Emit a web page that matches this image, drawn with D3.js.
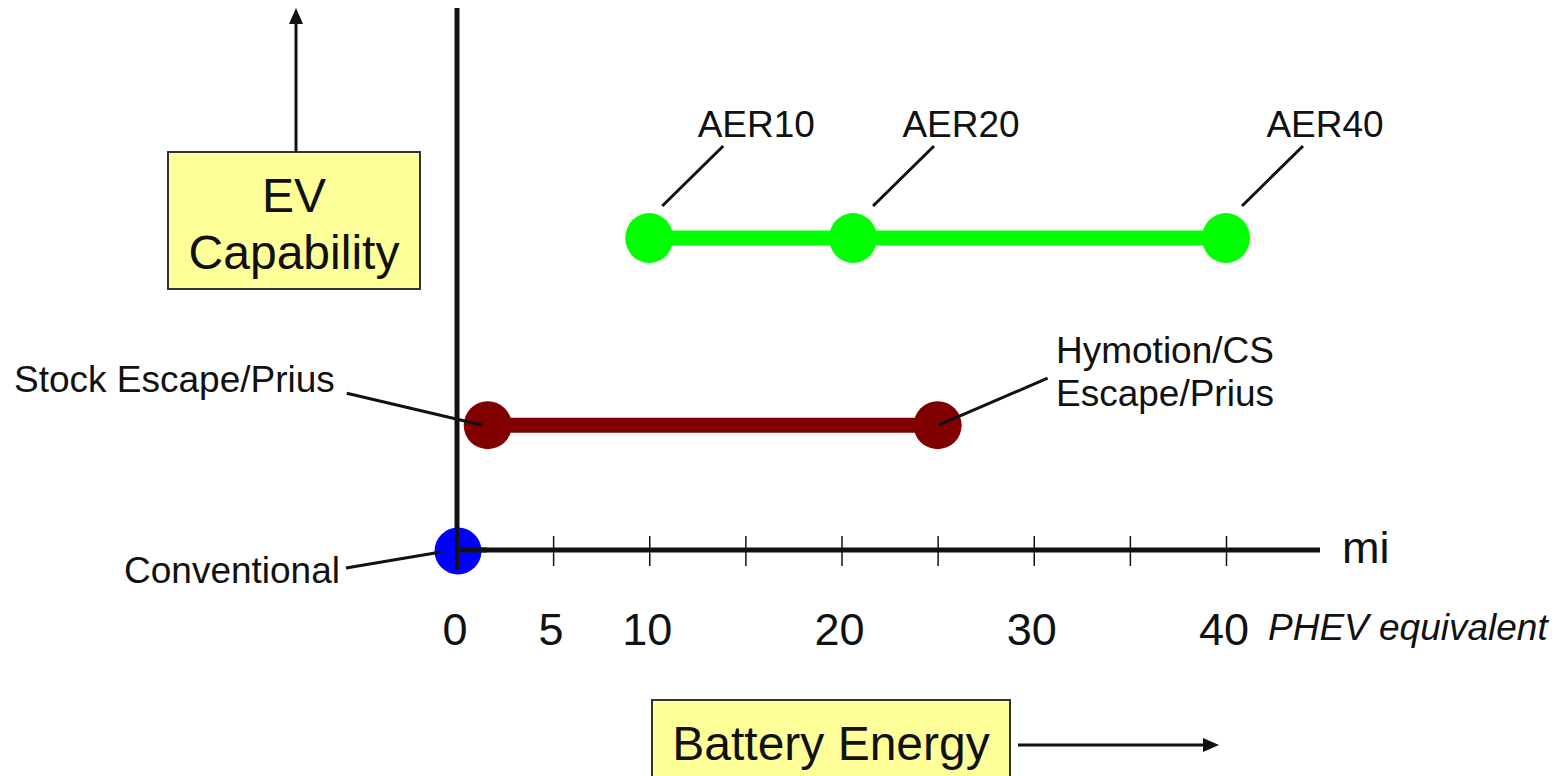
<!DOCTYPE html>
<html>
<head>
<meta charset="utf-8">
<script src="https://cdn.jsdelivr.net/npm/d3@7/dist/d3.min.js"></script>
<style>
  html, body { margin: 0; padding: 0; background: #fff; }
  svg { display: block; }
  text { font-family: "Liberation Sans", Arial, Helvetica, sans-serif; fill: #111; }
</style>
</head>
<body>
<svg id="chart" width="1561" height="776"></svg>
<script>
// ---- data ----
const tickValues = [0, 5, 10, 15, 20, 25, 30, 35, 40];
const tickLabels = ["0", "5", "10", "", "20", "", "30", "", "40"];
const aerNames = ["AER10", "AER20", "AER40"];
const aerMiles = [10, 20.6, 40];
const aerCapability = 100;
const hevNames = ["Stock Escape/Prius", "Hymotion/CS\nEscape/Prius"];
const hevMiles = [1.6, 25];
const hevCapability = 40;
const convName = "Conventional";
const convMiles = 0;
const convCapability = 0;

const svg = d3.select("#chart");
const x = d3.scaleLinear().domain([0, 40]).range([457, 1226]);
const y = d3.scaleLinear().domain([0, 100]).range([550, 238]);

// ---- y-axis (vertical line) ----
svg.append("line").attr("x1", x(0)).attr("x2", x(0)).attr("y1", 8).attr("y2", 570)
  .attr("stroke", "#111").attr("stroke-width", 5);

// ---- x-axis ----
const xAxis = d3.axisBottom(x).tickValues(tickValues.slice(1)).tickSize(30).tickFormat("");
const gx = svg.append("g").attr("transform", `translate(0,${y(0) - 14})`).call(xAxis);
gx.select(".domain").remove();
gx.selectAll(".tick line").attr("stroke", "#111").attr("stroke-width", 1.5);
svg.append("line").attr("x1", x(0)).attr("x2", 1320).attr("y1", y(0)).attr("y2", y(0))
  .attr("stroke", "#111").attr("stroke-width", 5);

svg.append("text").attr("x", 1342).attr("y", y(0) + 13).attr("font-size", 45).text("mi");

// tick labels
svg.append("g").selectAll("text").data(tickValues).join("text")
  .attr("x", d => x(d) - 2).attr("y", 645).attr("text-anchor", "middle")
  .attr("font-size", 45).text((d, i) => tickLabels[i]);
svg.append("text").attr("x", 1268).attr("y", 640).attr("font-size", 37)
  .attr("font-style", "italic").text("PHEV equivalent");

// ---- AER series ----
svg.append("line").attr("x1", x(aerMiles[0])).attr("x2", x(aerMiles[aerMiles.length - 1]))
  .attr("y1", y(aerCapability)).attr("y2", y(aerCapability))
  .attr("stroke", "#00ff00").attr("stroke-width", 15);
svg.append("g").selectAll("ellipse").data(aerMiles).join("ellipse")
  .attr("cx", d => x(d)).attr("cy", y(aerCapability)).attr("rx", 24).attr("ry", 25)
  .attr("fill", "#00ff00");
const leaderDx = [13, 20, 16];
const labelDx = [107, 108, 99];
aerMiles.forEach((m, i) => {
  const cx = x(m), cy = y(aerCapability);
  svg.append("line").attr("x1", cx + leaderDx[i]).attr("y1", cy - 32)
    .attr("x2", cx + leaderDx[i] + 61).attr("y2", cy - 92)
    .attr("stroke", "#111").attr("stroke-width", 3);
  svg.append("text").attr("x", cx + labelDx[i]).attr("y", cy - 101).attr("text-anchor", "middle")
    .attr("font-size", 37).text(aerNames[i]);
});

// ---- HEV series ----
svg.append("line").attr("x1", x(hevMiles[0])).attr("x2", x(hevMiles[1]))
  .attr("y1", y(hevCapability)).attr("y2", y(hevCapability))
  .attr("stroke", "#800000").attr("stroke-width", 15);
svg.append("g").selectAll("circle").data(hevMiles).join("circle")
  .attr("cx", d => x(d)).attr("cy", y(hevCapability)).attr("r", 24)
  .attr("fill", "#800000");

// callouts for HEV
{
  const cx0 = x(hevMiles[0]), cy = y(hevCapability);
  svg.append("line").attr("x1", cx0 - 5).attr("y1", cy).attr("x2", cx0 - 141).attr("y2", cy - 32)
    .attr("stroke", "#111").attr("stroke-width", 3);
  svg.append("text").attr("x", 14).attr("y", cy - 33).attr("font-size", 37).text(hevNames[0]);

  const cx1 = x(hevMiles[1]);
  svg.append("line").attr("x1", cx1 + 1).attr("y1", cy).attr("x2", cx1 + 110).attr("y2", cy - 47)
    .attr("stroke", "#111").attr("stroke-width", 3);
  const lines = hevNames[1].split("\n");
  lines.forEach((t, i) => {
    svg.append("text").attr("x", 1056).attr("y", cy - 62 + i * 43).attr("font-size", 37).text(t);
  });
}

// ---- Conventional ----
svg.append("circle").attr("cx", x(convMiles) + 1).attr("cy", y(convCapability) + 1).attr("r", 23.5)
  .attr("fill", "#0000ff");
// redraw axis corner on top of blue dot
svg.append("line").attr("x1", x(0)).attr("x2", x(0)).attr("y1", y(0) - 30).attr("y2", 570)
  .attr("stroke", "#111").attr("stroke-width", 4);
svg.append("line").attr("x1", x(0)).attr("x2", x(0) + 30).attr("y1", y(0)).attr("y2", y(0))
  .attr("stroke", "#111").attr("stroke-width", 5);
svg.append("line").attr("x1", x(0) - 16).attr("y1", y(0) + 2).attr("x2", 346).attr("y2", y(0) + 18)
  .attr("stroke", "#111").attr("stroke-width", 3);
svg.append("text").attr("x", 340).attr("y", y(0) + 33).attr("text-anchor", "end")
  .attr("font-size", 37).text(convName);

// ---- EV Capability box + up arrow ----
svg.append("line").attr("x1", 296).attr("x2", 296).attr("y1", 152).attr("y2", 22)
  .attr("stroke", "#111").attr("stroke-width", 3);
svg.append("path").attr("d", "M296,8 L289,24 L303,24 Z").attr("fill", "#111");
svg.append("rect").attr("x", 168).attr("y", 152).attr("width", 252).attr("height", 137)
  .attr("fill", "#ffff99").attr("stroke", "#333").attr("stroke-width", 2);
svg.append("text").attr("x", 294).attr("y", 212).attr("text-anchor", "middle")
  .attr("font-size", 48).text("EV");
svg.append("text").attr("x", 294).attr("y", 269).attr("text-anchor", "middle")
  .attr("font-size", 48).text("Capability");

// ---- Battery Energy box + right arrow ----
svg.append("rect").attr("x", 652).attr("y", 700).attr("width", 358).attr("height", 90)
  .attr("fill", "#ffff99").attr("stroke", "#333").attr("stroke-width", 2);
svg.append("text").attr("x", 831).attr("y", 760).attr("text-anchor", "middle")
  .attr("font-size", 48).text("Battery Energy");
svg.append("line").attr("x1", 1018).attr("x2", 1205).attr("y1", 745).attr("y2", 745)
  .attr("stroke", "#111").attr("stroke-width", 3);
svg.append("path").attr("d", "M1219,745 L1203,738 L1203,752 Z").attr("fill", "#111");
</script>
</body>
</html>
